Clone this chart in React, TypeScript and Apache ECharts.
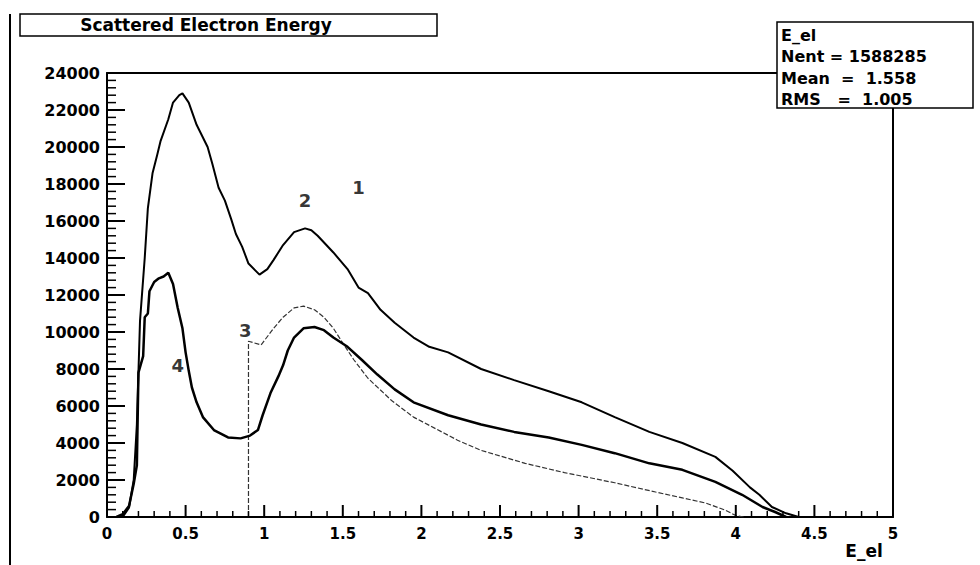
import React, { useEffect, useRef } from "react";
import * as echarts from "echarts";

// Curve 1 (total, upper)
const c1X = [0.10, 0.14, 0.17, 0.19, 0.21, 0.24, 0.26, 0.29, 0.32, 0.34, 0.39, 0.42, 0.46, 0.48, 0.52, 0.57, 0.64, 0.67, 0.71, 0.75, 0.79, 0.82, 0.86, 0.90, 0.97, 1.02, 1.06, 1.12, 1.19, 1.26, 1.30, 1.34, 1.44, 1.53, 1.60, 1.66, 1.74, 1.83, 1.95, 2.05, 2.17, 2.38, 2.59, 2.81, 3.02, 3.23, 3.45, 3.66, 3.87, 3.98, 4.09, 4.15, 4.23, 4.32, 4.40];
const c1Y = [0, 500, 2000, 5000, 10600, 14000, 16700, 18600, 19600, 20300, 21500, 22400, 22800, 22900, 22400, 21200, 20000, 19100, 17800, 17100, 16100, 15300, 14600, 13700, 13100, 13400, 13900, 14700, 15400, 15600, 15500, 15200, 14300, 13400, 12400, 12100, 11200, 10500, 9700, 9200, 8900, 8000, 7400, 6800, 6200, 5400, 4600, 4000, 3250, 2500, 1600, 1200, 540, 200, 0];

// Curve 3 (thin, dotted)
const c3X = [0.90, 0.90, 0.98, 1.06, 1.12, 1.19, 1.25, 1.32, 1.38, 1.44, 1.50, 1.57, 1.66, 1.81, 1.95, 2.23, 2.38, 2.66, 2.91, 3.23, 3.49, 3.66, 3.81, 3.93, 4.00, 4.05];
const c3Y = [0, 9500, 9300, 10200, 10800, 11300, 11400, 11200, 10800, 10200, 9400, 8500, 7500, 6300, 5400, 4150, 3600, 2900, 2400, 1850, 1350, 1030, 750, 380, 80, 0];

// Curve 4 (thick, lower)
const c4X = [0.06, 0.10, 0.14, 0.17, 0.19, 0.20, 0.23, 0.24, 0.26, 0.27, 0.30, 0.33, 0.36, 0.39, 0.42, 0.45, 0.48, 0.50, 0.52, 0.54, 0.57, 0.61, 0.68, 0.77, 0.85, 0.91, 0.96, 0.99, 1.04, 1.09, 1.12, 1.15, 1.19, 1.25, 1.32, 1.38, 1.44, 1.53, 1.62, 1.72, 1.83, 1.95, 2.17, 2.38, 2.59, 2.81, 3.02, 3.23, 3.45, 3.66, 3.87, 4.04, 4.17, 4.25, 4.32];
const c4Y = [0, 150, 600, 1800, 2800, 7800, 8700, 10800, 11000, 12200, 12700, 12900, 13000, 13200, 12600, 11300, 10200, 8900, 7900, 7000, 6200, 5400, 4700, 4300, 4250, 4400, 4700, 5500, 6700, 7600, 8200, 9000, 9700, 10200, 10270, 10100, 9700, 9200, 8500, 7700, 6900, 6200, 5500, 5000, 4600, 4300, 3900, 3450, 2900, 2550, 1900, 1200, 540, 270, 0];

// Curve annotations
const curveLabels = ["1", "2", "3", "4"];
const curveLabelX = [1.60, 1.26, 0.88, 0.45];
const curveLabelY = [17800, 17100, 10100, 8200];

// Axis ticks (major / minor)
const xMajorTicks = [0, 0.5, 1, 1.5, 2, 2.5, 3, 3.5, 4, 4.5, 5];
const xMinorStep = 0.1;
const yMajorTicks = [0, 2000, 4000, 6000, 8000, 10000, 12000, 14000, 16000, 18000, 20000, 22000, 24000];
const yMinorStep = 400;

const statLines = ["E_el", "Nent = 1588285", "Mean  =  1.558", "RMS   =  1.005"];
const titleText = "Scattered Electron Energy";
const xName = "E_el";

const pairs = (xs: number[], ys: number[]) => xs.map((x, i) => [x, ys[i]]);

const FONT = "'DejaVu Sans', 'Liberation Sans', Arial, sans-serif";

const minorValues = (majors: number[], step: number) => {
  const out: number[] = [];
  const max = majors[majors.length - 1];
  const n = Math.round(max / step);
  for (let i = 0; i <= n; i++) {
    const v = Math.round(i * step * 1000) / 1000;
    if (!majors.some((m) => Math.abs(m - v) < 1e-6)) out.push(v);
  }
  return out;
};

export default function App() {
  const ref = useRef<HTMLDivElement>(null);
  useEffect(() => {
    document.body.style.margin = "0";
    const chart = echarts.init(ref.current!, null, { renderer: "svg" });
    const frameAxis = {
      axisLine: { show: true, onZero: false, lineStyle: { color: "#000", width: 2 } },
      splitLine: { show: false },
      axisTick: { show: false },
      minorTick: { show: false },
    };
    const tickSeries = (data: number[][], size: number[], offset: number[]) => ({
      type: "scatter", data, symbol: "rect", symbolSize: size, symbolOffset: offset,
      itemStyle: { color: "#000", opacity: 1 }, silent: true, z: 10, clip: false,
    });
    const xMinor = minorValues(xMajorTicks, xMinorStep);
    const yMinor = minorValues(yMajorTicks, yMinorStep);
    chart.setOption({
      animation: false,
      backgroundColor: "#fff",
      grid: { left: 107, top: 73, right: 87, bottom: 48, show: false },
      xAxis: [
        {
          type: "value", min: 0, max: 5, interval: 0.5, position: "bottom",
          ...frameAxis,
          axisLabel: {
            color: "#000", fontFamily: FONT, fontWeight: "bold", fontSize: 15, margin: 9,
            formatter: (v: number) => String(v),
          },
        },
        {
          type: "value", min: 0, max: 5, interval: 0.5, position: "top",
          ...frameAxis, axisLabel: { show: false },
        },
      ],
      yAxis: [
        {
          type: "value", min: 0, max: 24000, interval: 2000, position: "left",
          ...frameAxis,
          axisLabel: {
            color: "#000", fontFamily: FONT, fontWeight: "bold", fontSize: 16, margin: 7,
            formatter: (v: number) => String(v),
          },
        },
        {
          type: "value", min: 0, max: 24000, interval: 2000, position: "right",
          ...frameAxis, axisLabel: { show: false },
        },
      ],
      series: [
        tickSeries(xMajorTicks.map((v) => [v, 0]), [2, 12], [0, -6]),
        tickSeries(xMinor.map((v) => [v, 0]), [1.5, 6], [0, -3]),
        tickSeries(yMajorTicks.map((v) => [0, v]), [18, 2], [9, 0]),
        tickSeries(yMinor.map((v) => [0, v]), [9, 1.5], [4.5, 0]),
        {
          type: "line", data: pairs(c1X, c1Y), symbol: "none",
          lineStyle: { color: "#000", width: 2 }, z: 3,
        },
        {
          type: "line", data: pairs(c3X, c3Y), symbol: "none",
          lineStyle: { color: "#333", width: 1.2, type: [5, 2] }, z: 2,
        },
        {
          type: "line", data: pairs(c4X, c4Y), symbol: "none",
          lineStyle: { color: "#000", width: 2.5 }, z: 4,
        },
        {
          type: "scatter", symbolSize: 0, z: 5,
          data: curveLabels.map((n, i) => ({ name: n, value: [curveLabelX[i], curveLabelY[i]] })),
          label: {
            show: true, position: "inside", formatter: "{b}", color: "#000",
            fontFamily: FONT, fontWeight: "bold", fontSize: 18,
          },
        },
      ],
      graphic: [
        { type: "line", z: 100, shape: { x1: 10, y1: 14, x2: 10, y2: 565 }, style: { stroke: "#000", lineWidth: 2 } },
        {
          type: "rect", z: 100, shape: { x: 20, y: 14, width: 417, height: 22 },
          style: { fill: "#fff", stroke: "#000", lineWidth: 1.5 },
        },
        {
          type: "text", z: 101, x: 206, y: 25,
          style: { text: titleText, fill: "#000", font: `bold 17px ${FONT}`, textAlign: "center", textVerticalAlign: "middle" },
        },
        {
          type: "rect", z: 100, shape: { x: 777, y: 22, width: 196, height: 86 },
          style: { fill: "#fff", stroke: "#000", lineWidth: 1.5 },
        },
        ...statLines.map((t, i) => ({
          type: "text", z: 101, x: 781, y: 35 + i * 21.5,
          style: { text: t, fill: "#000", font: `bold 16px ${FONT}`, textVerticalAlign: "middle" },
        })),
        {
          type: "text", z: 101, x: 864, y: 551,
          style: { text: xName, fill: "#000", font: `bold 17px ${FONT}`, textAlign: "center", textVerticalAlign: "middle" },
        },
      ],
    });
    return () => chart.dispose();
  }, []);
  return <div ref={ref} style={{ width: 980, height: 565 }} />;
}
